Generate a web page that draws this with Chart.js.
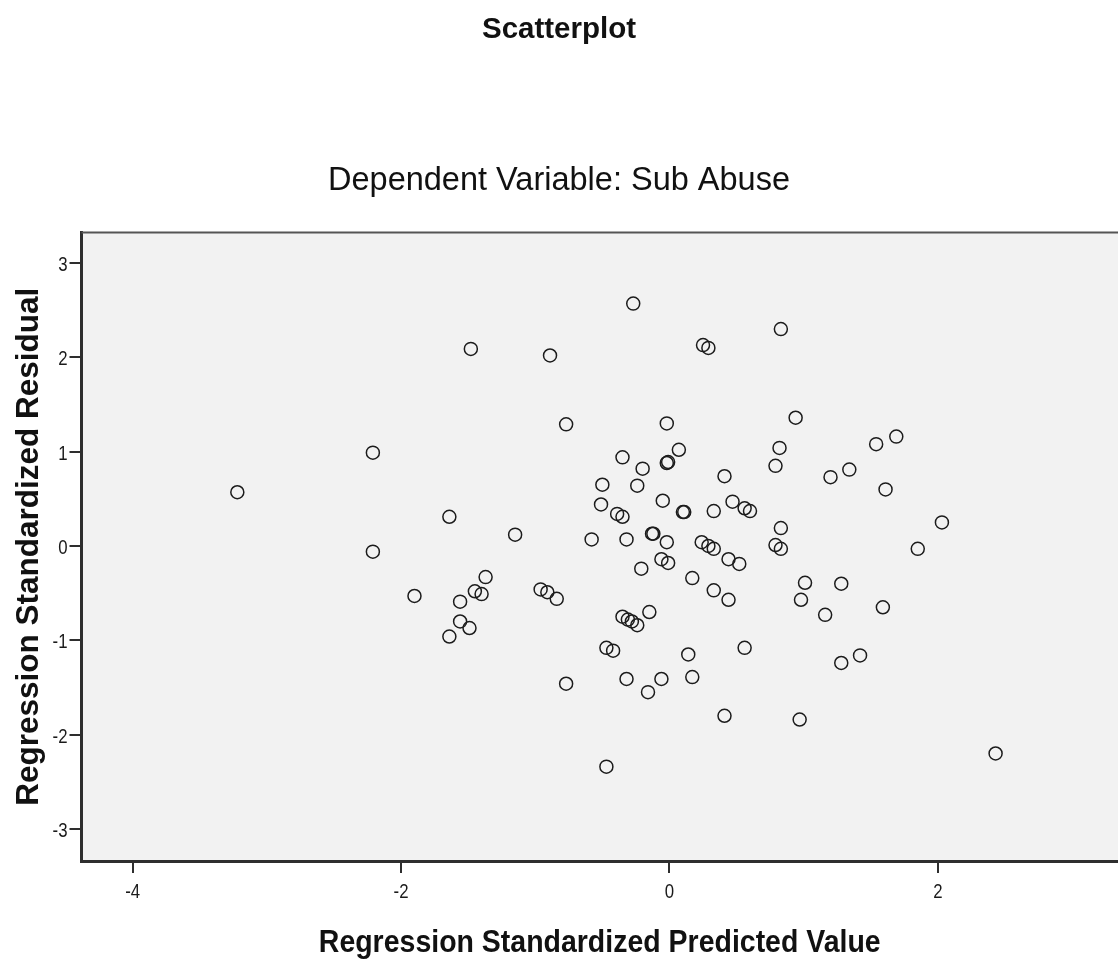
<!DOCTYPE html>
<html>
<head>
<meta charset="utf-8">
<script src="https://cdn.jsdelivr.net/npm/chart.js"></script>
<style>
  html, body { margin: 0; padding: 0; background: #fff; overflow: hidden; }
  canvas { display: block; }
</style>
</head>
<body>
<canvas id="plot" width="1118" height="963"></canvas>
<script>
// regression standardized predicted value / standardized residual pairs
const predicted = [
  -3.22, -2.21, -2.21, -0.27, -1.48, -0.89, 0.25, 0.29, 0.83, -0.77,
  -0.02, 0.07, -0.35, -0.02, -0.01, -0.20, 0.41, 0.82, 0.79, -0.50,
  -0.24, -0.05, -0.51, 0.10, 0.11, 0.33, 0.47, 0.56, 0.60, -0.39,
  -0.35, -1.64, -1.15, -0.58, -0.32, -0.13, -0.12, -0.02, 0.24, 0.29,
  0.33, 0.83, 0.79, 0.83, 0.94, 1.69, 1.54, 1.34, 1.20, 1.61,
  2.03, 1.85, -1.90, -1.37, -1.45, -1.40, -1.56, -1.56, -1.49, -1.64,
  -0.96, -0.91, -0.84, -0.21, -0.06, -0.01, 0.17, 0.33, 0.44, 0.44,
  0.52, -0.15, -0.35, -0.31, -0.28, -0.24, -0.47, -0.42, 0.14, 0.56,
  -0.77, -0.32, -0.06, -0.16, 0.17, 0.41, -0.47, 1.01, 0.98, 1.28,
  1.16, 1.59, 1.42, 1.28, 0.97, 2.43
];
const residual = [
  0.57, 0.99, -0.06, 2.57, 2.09, 2.02, 2.13, 2.10, 2.30, 1.29,
  1.30, 1.02, 0.94, 0.88, 0.89, 0.82, 0.74, 1.04, 0.85, 0.65,
  0.64, 0.48, 0.44, 0.36, 0.36, 0.37, 0.47, 0.40, 0.37, 0.34,
  0.31, 0.31, 0.12, 0.07, 0.07, 0.13, 0.13, 0.04, 0.04, 0.00,
  -0.03, 0.19, 0.01, -0.03, 1.36, 1.16, 1.08, 0.81, 0.73, 0.60,
  0.25, -0.03, -0.53, -0.33, -0.48, -0.51, -0.59, -0.80, -0.87, -0.96,
  -0.46, -0.49, -0.56, -0.24, -0.14, -0.18, -0.34, -0.47, -0.57, -0.14,
  -0.19, -0.70, -0.75, -0.78, -0.80, -0.84, -1.08, -1.11, -1.15, -1.08,
  -1.46, -1.41, -1.41, -1.55, -1.39, -1.80, -2.34, -0.39, -0.57, -0.40,
  -0.73, -0.65, -1.16, -1.24, -1.84, -2.20
];
const xTicks = [-4, -2, 0, 2];
const yTicks = [-3, -2, -1, 0, 1, 2, 3];
const xTitle = 'Regression Standardized Predicted Value';

const points = predicted.map((x, i) => ({ x: x, y: residual[i] }));

const FONT = "'Liberation Sans', Arial, sans-serif";
const AXIS = '#2e2e2e';
const TICK_LEN = 12;

// draws text squeezed horizontally (no narrow face installed)
function narrowText(ctx, text, x, y, sx, align) {
  ctx.save();
  ctx.translate(x, y);
  ctx.scale(sx, 1);
  ctx.textAlign = align;
  ctx.textBaseline = 'alphabetic';
  ctx.fillText(text, 0, 0);
  ctx.restore();
}

// grey plot background, top edge of the frame, condensed tick labels and x title
const plotFrame = {
  id: 'plotFrame',
  beforeDraw(chart) {
    const { ctx, chartArea: a } = chart;
    ctx.save();
    ctx.fillStyle = '#f2f2f2';
    ctx.fillRect(a.left, a.top, a.right - a.left, a.bottom - a.top);
    ctx.restore();
  },
  afterDraw(chart) {
    const { ctx, chartArea: a, scales } = chart;
    ctx.save();
    ctx.strokeStyle = '#555';
    ctx.lineWidth = 2;
    ctx.beginPath();
    ctx.moveTo(a.left, a.top);
    ctx.lineTo(a.right, a.top);
    ctx.stroke();

    ctx.fillStyle = '#1a1a1a';
    ctx.font = '21px ' + FONT;
    scales.x.ticks.forEach(t => {
      narrowText(ctx, String(t.value), scales.x.getPixelForValue(t.value), a.bottom + 37, 0.8, 'center');
    });
    scales.y.ticks.forEach(t => {
      narrowText(ctx, String(t.value), a.left - TICK_LEN - 2, scales.y.getPixelForValue(t.value) + 8, 0.8, 'right');
    });

    ctx.fillStyle = '#111';
    ctx.font = 'bold 32px ' + FONT;
    narrowText(ctx, xTitle, (a.left + a.right) / 2, 952, 0.89, 'center');
    ctx.restore();
  }
};

new Chart(document.getElementById('plot'), {
  type: 'scatter',
  data: {
    datasets: [{
      data: points,
      pointStyle: 'circle',
      pointRadius: 6.5,
      pointHoverRadius: 6.5,
      pointBorderWidth: 1.5,
      pointBorderColor: '#1c1c1c',
      pointBackgroundColor: 'rgba(0,0,0,0)'
    }]
  },
  options: {
    responsive: false,
    animation: false,
    events: [],
    layout: { padding: 0, autoPadding: false },
    plugins: {
      legend: { display: false },
      tooltip: { enabled: false },
      title: {
        display: true,
        text: 'Scatterplot',
        color: '#111',
        font: { family: FONT, size: 29.5, weight: 'bold', lineHeight: 1 },
        padding: { top: 15, bottom: 0 }
      },
      subtitle: {
        display: true,
        text: 'Dependent Variable: Sub Abuse',
        color: '#111',
        font: { family: FONT, size: 32.5, weight: 'normal', lineHeight: 1 },
        padding: { top: 120, bottom: 35.5 }
      }
    },
    scales: {
      x: {
        type: 'linear',
        min: -4.381,
        max: 3.342,
        afterBuildTicks: s => { s.ticks = xTicks.map(v => ({ value: v })); },
        afterFit: s => { s.height = 102; },
        grid: { display: true, drawOnChartArea: false, drawTicks: true, tickLength: TICK_LEN, color: AXIS, lineWidth: 2 },
        border: { display: true, color: AXIS, width: 3 },
        ticks: { display: false },
        title: { display: false }
      },
      y: {
        type: 'linear',
        min: -3.34,
        max: 3.324,
        afterBuildTicks: s => { s.ticks = yTicks.map(v => ({ value: v })); },
        afterFit: s => { s.width = 81.5; },
        grid: { display: true, drawOnChartArea: false, drawTicks: true, tickLength: TICK_LEN, color: AXIS, lineWidth: 2 },
        border: { display: true, color: AXIS, width: 3 },
        ticks: { display: false },
        title: {
          display: true,
          text: 'Regression Standardized Residual',
          color: '#111',
          font: { family: FONT, size: 31.5, weight: 'bold', lineHeight: 1 },
          padding: { top: 14, bottom: 0 }
        }
      }
    }
  },
  plugins: [plotFrame]
});
</script>
</body>
</html>
